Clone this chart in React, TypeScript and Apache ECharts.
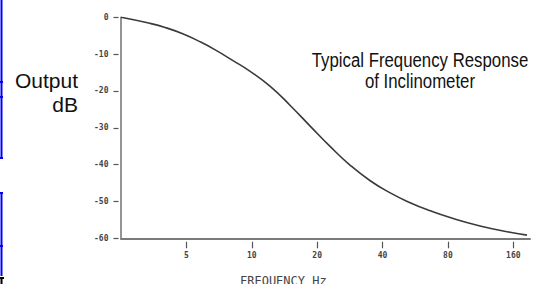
import React, { useEffect, useRef } from "react";
import * as echarts from "echarts";

// Frequency response (frequency in Hz, output in dB)
const freqHz = [2.5, 3.35, 4.02, 4.81, 5.82, 6.82, 8.16, 9.87, 12.2, 15.07, 18.62, 23.0, 28.4, 35.1, 43.4, 53.6, 66.3, 81.9, 112.5, 154.5, 185];
const outputDb = [0, -1.57, -2.82, -4.48, -6.73, -8.91, -11.68, -14.74, -18.82, -24.0, -29.6, -35.13, -40.18, -44.37, -47.68, -50.34, -52.54, -54.38, -56.64, -58.35, -59.14];
const tickFreqs = [5, 10, 20, 40, 80, 160];
const yTicks = [0, -10, -20, -30, -40, -50, -60];
const freqMin = 2.5;
const freqMax = 191;
const refFreq = 5;

const oct = (f: number) => Math.log2(f / refFreq);

export default function App() {
  const ref = useRef<HTMLDivElement>(null);
  useEffect(() => {
    if (!ref.current) return;
    const chart = echarts.init(ref.current, null, { renderer: "svg" });
    const tickFont = { fontFamily: "DejaVu Sans Mono", fontSize: 8, color: "#444", fontWeight: "bold" as const };
    const xMin = oct(freqMin);
    const xMax = oct(freqMax);
    const blue = { stroke: "#0000ff", lineWidth: 2 };
    chart.setOption({
      animation: false,
      backgroundColor: "#ffffff",
      grid: { left: 121, right: 10, top: 17.3, bottom: 45.7 },
      xAxis: [
        {
          type: "value", min: xMin, max: xMax, position: "bottom",
          axisLine: { show: true, onZero: false, lineStyle: { color: "#7a7a7a", width: 2 } },
          axisTick: { show: false }, axisLabel: { show: false }, splitLine: { show: false },
        },
        {
          type: "value", min: xMin, max: xMax, position: "bottom", offset: 3.4,
          axisLine: { show: false, onZero: false },
          axisTick: { show: true, length: 6.6, customValues: tickFreqs.map(oct), lineStyle: { color: "#555", width: 1.2 } },
          axisLabel: {
            show: true, margin: 10, customValues: tickFreqs.map(oct), ...tickFont,
            formatter: (v: number) => String(Math.round(refFreq * Math.pow(2, v))),
          },
          splitLine: { show: false },
        },
      ],
      yAxis: [
        {
          type: "value", min: -60, max: 0, interval: 10, position: "left",
          axisLine: { show: true, onZero: false, lineStyle: { color: "#707070", width: 1.5 } },
          axisTick: { show: false }, axisLabel: { show: false }, splitLine: { show: false },
        },
        {
          type: "value", min: -60, max: 0, interval: 10, position: "left", offset: 2.5,
          axisLine: { show: false, onZero: false },
          axisTick: { show: true, length: 5, customValues: yTicks, lineStyle: { color: "#555", width: 1.2 } },
          axisLabel: { show: true, margin: 10, customValues: yTicks, ...tickFont },
          splitLine: { show: false },
        },
      ],
      series: [
        {
          type: "line", xAxisIndex: 0, yAxisIndex: 0, smooth: 0.5, showSymbol: false,
          lineStyle: { color: "#3a3a3a", width: 1.6 },
          data: freqHz.map((f, i) => [oct(f), outputDb[i]]),
        },
      ],
      graphic: [
        {
          type: "text", x: 420, y: 49, scaleX: 0.8,
          style: {
            text: "Typical Frequency Response\nof Inclinometer", align: "center",
            font: "21px 'Liberation Sans'", lineHeight: 21, fill: "#111",
          },
        },
        {
          type: "text", x: 78, y: 68,
          style: { text: "Output\ndB", align: "right", font: "21px 'Liberation Sans'", lineHeight: 24, fill: "#111" },
        },
        {
          type: "text", x: 240, y: 275,
          style: { text: "FREQUENCY Hz", font: "12px 'DejaVu Sans Mono'", fill: "#444" },
        },
        { type: "line", shape: { x1: 1.5, y1: 0, x2: 1.5, y2: 159 }, style: blue },
        { type: "line", shape: { x1: 0, y1: 82, x2: 3, y2: 82 }, style: blue },
        { type: "line", shape: { x1: 0, y1: 97, x2: 3, y2: 97 }, style: blue },
        { type: "line", shape: { x1: 0, y1: 158, x2: 3, y2: 158 }, style: blue },
        { type: "line", shape: { x1: 1.5, y1: 192, x2: 1.5, y2: 276 }, style: blue },
        { type: "line", shape: { x1: 0, y1: 193, x2: 3, y2: 193 }, style: blue },
        { type: "line", shape: { x1: 0, y1: 246, x2: 3, y2: 246 }, style: blue },
        { type: "line", shape: { x1: 0, y1: 278, x2: 4, y2: 278 }, style: { stroke: "#000", lineWidth: 2 } },
        { type: "line", shape: { x1: 1.5, y1: 278, x2: 1.5, y2: 284 }, style: { stroke: "#000", lineWidth: 2 } },
      ],
    });
    return () => chart.dispose();
  }, []);
  return <div ref={ref} style={{ width: 540, height: 284, position: "fixed", left: 0, top: 0 }} />;
}
